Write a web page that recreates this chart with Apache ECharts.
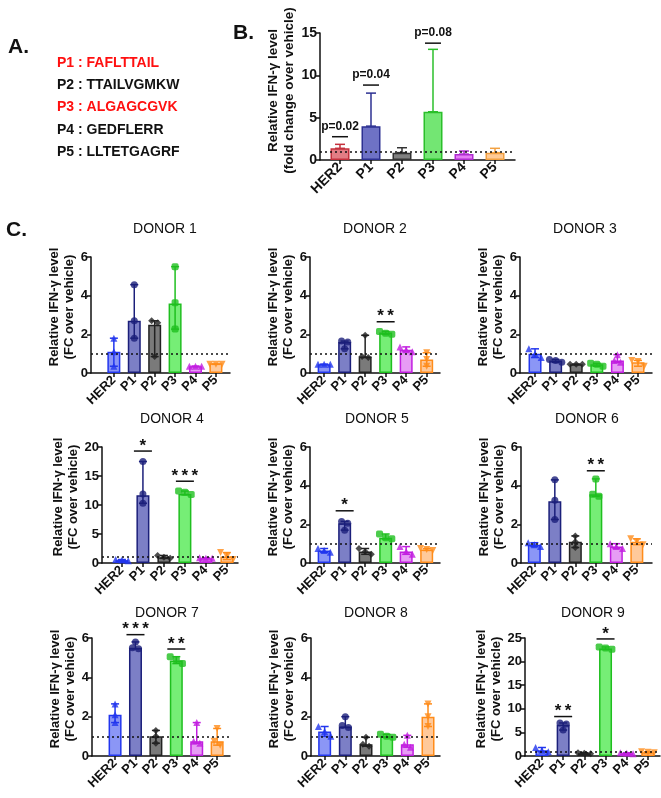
<!DOCTYPE html>
<html>
<head>
<meta charset="utf-8">
<script src="https://cdn.jsdelivr.net/npm/echarts@6/dist/echarts.min.js"></script>
<style>
  html, body { margin: 0; padding: 0; background: #fff; }
  #chart { width: 661px; height: 798px; }
</style>
</head>
<body>
<div id="chart"></div>
<script>
// ---- data ----
const cats = ['HER2', 'P1', 'P2', 'P3', 'P4', 'P5'];
const peptideNames = ['P1', 'P2', 'P3', 'P4', 'P5'];
const peptideSeqs = ['FAFLTTAIL', 'TTAILVGMKW', 'ALGAGCGVK', 'GEDFLERR', 'LLTETGAGRF'];
const peptideHighlighted = [true, false, true, false, false];

// panel B: pooled fold change
const bMeans = [1.38, 4.0, 0.87, 5.7, 0.7, 0.87];
const bErrHi = [1.85, 7.9, 1.45, 13.07, 1.06, 1.38];
const bSigCats = [0, 1, 3];
const bSigLevels = [2.75, 8.85, 13.8];
const bSigTexts = ['p=0.02', 'p=0.04', 'p=0.08'];

// panel C: per donor bar heights
const donorNames = ['DONOR 1', 'DONOR 2', 'DONOR 3', 'DONOR 4', 'DONOR 5', 'DONOR 6', 'DONOR 7', 'DONOR 8', 'DONOR 9'];
const donorMeans = [
  [1.1, 2.7, 2.5, 3.6, 0.35, 0.5],
  [0.45, 1.6, 0.85, 2.1, 1.2, 0.7],
  [1.0, 0.65, 0.45, 0.45, 0.65, 0.55],
  [0.5, 11.7, 1.0, 11.9, 0.8, 1.1],
  [0.65, 2.05, 0.6, 1.3, 0.6, 0.7],
  [0.95, 3.2, 1.1, 3.55, 0.85, 1.1],
  [2.1, 5.5, 1.0, 4.85, 0.75, 0.75],
  [1.25, 1.5, 0.6, 1.0, 0.6, 2.0],
  [1.2, 6.6, 0.6, 22.8, 0.6, 0.8]
];
// individual replicates (3 per peptide)
const donorPoints = [
  [[1.8, 1.1, 0.35], [4.57, 2.7, 1.8], [2.7, 2.6, 0.85], [5.5, 3.63, 2.27], [0.35, 0.35, 0.35], [0.45, 0.45, 0.45]],
  [[0.45, 0.45, 0.45], [1.65, 1.6, 1.25], [1.95, 0.85, 0.8], [2.15, 2.05, 2.0], [1.35, 1.2, 1.1], [1.05, 0.7, 0.35]],
  [[1.25, 1.0, 0.8], [0.7, 0.65, 0.55], [0.45, 0.45, 0.45], [0.5, 0.45, 0.35], [0.95, 0.65, 0.55], [0.65, 0.6, 0.35]],
  [[0.6, 0.5, 0.4], [17.5, 11.9, 10.3], [1.3, 1.0, 0.8], [12.4, 12.2, 11.8], [0.9, 0.8, 0.8], [1.8, 1.1, 0.6]],
  [[0.75, 0.65, 0.55], [2.15, 2.05, 1.7], [0.75, 0.6, 0.45], [1.5, 1.3, 1.25], [0.85, 0.6, 0.45], [0.75, 0.7, 0.65]],
  [[1.05, 0.95, 0.85], [4.3, 3.25, 2.25], [1.4, 1.1, 0.8], [4.35, 3.55, 3.45], [1.0, 0.85, 0.75], [1.25, 1.1, 0.95]],
  [[2.65, 2.1, 1.7], [5.8, 5.5, 5.45], [1.3, 1.0, 0.65], [5.05, 4.9, 4.7], [1.7, 0.75, 0.65], [1.4, 0.75, 0.55]],
  [[1.5, 1.25, 1.0], [2.0, 1.55, 1.45], [0.95, 0.6, 0.5], [1.1, 1.0, 0.95], [1.05, 0.6, 0.45], [2.65, 2.0, 1.5]],
  [[1.8, 1.2, 0.9], [7.0, 6.8, 5.5], [0.7, 0.6, 0.5], [23.1, 22.9, 22.6], [0.7, 0.6, 0.5], [0.9, 0.8, 0.7]]
];
// significance marks: [category index, bar level, label]
const donorSig = [
  [],
  [[3, 2.65, '**']],
  [],
  [[1, 19.3, '*'], [3, 14.1, '***']],
  [[1, 2.7, '*']],
  [[3, 4.77, '**']],
  [[1, 6.17, '***'], [3, 5.44, '**']],
  [],
  [[1, 8.36, '**'], [3, 24.8, '*']]
];
const donorYMax = [6, 6, 6, 20, 6, 6, 6, 6, 25];
const donorYStep = [2, 2, 2, 5, 2, 2, 2, 2, 5];
const baseline = 1;

// ---- styles / layout ----
const FONT = '"Liberation Sans", Arial, sans-serif';
const INK = '#111';
const bFill = ['#e27d84', '#6e72c5', '#808080', '#73e673', '#e57ef5', '#ffca95'];
const bEdge = ['#c4303c', '#2d3192', '#333333', '#2bbf2b', '#b02ad0', '#f2a040'];
const cFill = ['#8b96f6', '#7c7fc6', '#7a7a7a', '#76ee76', '#e79cf5', '#ffc99a'];
const cEdge = ['#2236ee', '#1b1f7a', '#222222', '#1fbf1f', '#c21fe0', '#ff8c1a'];
const cSymbol = ['triangle', 'circle', 'diamond', 'roundRect', 'triangle', 'triangle'];
const cSymbolRot = [0, 0, 0, 0, 0, 180];

// grid boxes: left (y-axis x), top, width, height, x min, x max, title x, title y
const boxB = { left: 320, top: 33, width: 195, height: 127, xMin: -0.645, xMax: 5.645 };
const donorBoxes = [
  { left: 91, top: 257, width: 139, height: 116, xMin: -1.12, xMax: 5.69, tx: 165, ty: 229 },
  { left: 310, top: 257, width: 130, height: 116, xMin: -0.69, xMax: 5.65, tx: 375, ty: 229 },
  { left: 520, top: 257, width: 132, height: 116, xMin: -0.73, xMax: 5.68, tx: 585, ty: 229 },
  { left: 102, top: 447, width: 136, height: 116, xMin: -0.95, xMax: 5.53, tx: 172, ty: 419 },
  { left: 310, top: 447, width: 130, height: 116, xMin: -0.69, xMax: 5.65, tx: 377, ty: 419 },
  { left: 521, top: 447, width: 131, height: 116, xMin: -0.65, xMax: 5.74, tx: 587, ty: 419 },
  { left: 92, top: 638, width: 138, height: 118, xMin: -1.13, xMax: 5.63, tx: 167, ty: 613 },
  { left: 311, top: 638, width: 129, height: 118, xMin: -0.66, xMax: 5.58, tx: 376, ty: 613 },
  { left: 525, top: 638, width: 135, height: 118, xMin: -0.8, xMax: 5.57, tx: 593, ty: 613 }
];

const chart = echarts.init(document.getElementById('chart'));
const grids = [], xAxes = [], yAxes = [], series = [];
const tickVals = cats.map((c, i) => i);

function addAxes(box, yMax, yStep, opt) {
  const gi = grids.length;
  grids.push({ left: box.left, top: box.top, width: box.width, height: box.height, containLabel: false });
  xAxes.push({
    gridIndex: gi, type: 'value', min: box.xMin, max: box.xMax,
    axisLine: { show: true, onZero: false, lineStyle: { color: INK, width: 1.5 } },
    axisTick: { show: true, customValues: tickVals, length: 4, lineStyle: { color: INK, width: 1.5 } },
    axisLabel: {
      customValues: tickVals, formatter: v => cats[Math.round(v)], rotate: 45, margin: 5,
      fontFamily: FONT, fontWeight: 'bold', fontSize: opt.xFont, color: INK
    },
    splitLine: { show: false }
  });
  yAxes.push({
    gridIndex: gi, type: 'value', min: 0, max: yMax, interval: yStep,
    axisLine: { show: true, onZero: false, lineStyle: { color: INK, width: 1.5 } },
    axisTick: { show: true, length: 4, lineStyle: { color: INK, width: 1.5 } },
    axisLabel: { fontFamily: FONT, fontWeight: 'bold', fontSize: opt.yFont, color: INK, margin: 3 },
    splitLine: { show: false },
    name: opt.name, nameLocation: 'middle', nameGap: opt.nameGap,
    nameTextStyle: {
      fontFamily: FONT, fontWeight: 'bold', fontSize: opt.nameFont, color: INK,
      lineHeight: opt.nameLine, padding: [0, 0, 0, opt.nameShift]
    }
  });
  return gi;
}

function errRender(capHalf) {
  return function (params, api) {
    const x = api.value(0);
    const lo = api.coord([x, api.value(1)]);
    const hi = api.coord([x, api.value(2)]);
    const st = { stroke: api.visual('color'), lineWidth: 1.5 };
    return {
      type: 'group', children: [
        { type: 'line', shape: { x1: lo[0], y1: lo[1], x2: hi[0], y2: hi[1] }, style: st },
        { type: 'line', shape: { x1: hi[0] - capHalf, y1: hi[1], x2: hi[0] + capHalf, y2: hi[1] }, style: st },
        { type: 'line', shape: { x1: lo[0] - capHalf, y1: lo[1], x2: lo[0] + capHalf, y2: lo[1] }, style: st }
      ]
    };
  };
}

function sigRender(texts, halfLen, font, lift) {
  return function (params, api) {
    const p = api.coord([api.value(0), api.value(1)]);
    return {
      type: 'group', children: [
        { type: 'line', shape: { x1: p[0] - halfLen, y1: p[1], x2: p[0] + halfLen, y2: p[1] }, style: { stroke: INK, lineWidth: 1.5 } },
        { type: 'text', x: p[0], y: p[1] - lift, style: { text: texts[params.dataIndex], align: 'center', verticalAlign: 'middle', font: font, fill: INK } }
      ]
    };
  };
}

function dottedLine() {
  return {
    silent: true, symbol: 'none', label: { show: false },
    lineStyle: { type: [2, 3], color: INK, width: 1.5 },
    data: [{ yAxis: baseline }]
  };
}

// spread overlapping replicate dots sideways
function spread(vals, yMax) {
  const order = vals.map((v, i) => i).sort((a, b) => vals[b] - vals[a]);
  const off = new Array(vals.length).fill(0);
  let group = [order[0]];
  const flush = () => {
    group.forEach((idx, k) => { off[idx] = (k - (group.length - 1) / 2) * 0.3; });
  };
  for (let k = 1; k < order.length; k++) {
    if (Math.abs(vals[order[k - 1]] - vals[order[k]]) < yMax * 0.045) group.push(order[k]);
    else { flush(); group = [order[k]]; }
  }
  flush();
  return off;
}

// ---- panel B ----
{
  const gi = addAxes(boxB, 15, 5, {
    xFont: 14, yFont: 14, nameFont: 13.5, nameLine: 16, nameGap: 19, nameShift: 12,
    name: 'Relative IFN-γ level\n(fold change over vehicle)'
  });
  series.push({
    type: 'bar', xAxisIndex: gi, yAxisIndex: gi, barWidth: 19, z: 2,
    data: bMeans.map((m, i) => ({ value: [i, m], itemStyle: { color: bFill[i], borderColor: bEdge[i], borderWidth: 1.5 } })),
    markLine: dottedLine()
  });
  series.push({
    type: 'custom', xAxisIndex: gi, yAxisIndex: gi, z: 3, renderItem: errRender(5),
    data: bMeans.map((m, i) => ({ value: [i, m, bErrHi[i]], itemStyle: { color: bEdge[i] } }))
  });
  series.push({
    type: 'custom', xAxisIndex: gi, yAxisIndex: gi, z: 4,
    renderItem: sigRender(bSigTexts, 8, 'bold 12px ' + FONT, 10),
    data: bSigCats.map((c, k) => [c, bSigLevels[k]])
  });
}

// ---- panel C ----
donorMeans.forEach((means, d) => {
  const box = donorBoxes[d];
  const yMax = donorYMax[d];
  const gi = addAxes(box, yMax, donorYStep[d], {
    xFont: 13, yFont: 13, nameFont: 13, nameLine: 15, nameGap: 10, nameShift: 16,
    name: 'Relative IFN-γ level\n(FC over vehicle)'
  });
  series.push({
    type: 'bar', xAxisIndex: gi, yAxisIndex: gi, barWidth: 13, z: 2,
    data: means.map((m, i) => ({ value: [i, m], itemStyle: { color: cFill[i], borderColor: cEdge[i], borderWidth: 1.5 } })),
    markLine: dottedLine()
  });
  series.push({
    type: 'custom', xAxisIndex: gi, yAxisIndex: gi, z: 3, renderItem: errRender(4),
    data: donorPoints[d].map((pts, i) => ({
      value: [i, Math.min.apply(null, pts), Math.max.apply(null, pts)], itemStyle: { color: cEdge[i] }
    }))
  });
  const dots = [];
  donorPoints[d].forEach((pts, i) => {
    const off = spread(pts, yMax);
    pts.forEach((v, k) => {
      dots.push({
        value: [i + off[k], v], symbol: cSymbol[i], symbolRotate: cSymbolRot[i],
        itemStyle: { color: cEdge[i] }
      });
    });
  });
  series.push({
    type: 'scatter', xAxisIndex: gi, yAxisIndex: gi, z: 4, symbolSize: 7, silent: true, data: dots
  });
  const sig = donorSig[d];
  if (sig.length) {
    series.push({
      type: 'custom', xAxisIndex: gi, yAxisIndex: gi, z: 5,
      // stars are set a little apart, as in the original figure
      renderItem: sigRender(sig.map(s => s[2].split('').join('\u2009')), 9, 'bold 17px ' + FONT, 5),
      data: sig.map(s => [s[0], s[1]])
    });
  }
});

// ---- text elements ----
const graphics = [
  { type: 'text', x: 8, y: 47, style: { text: 'A.', font: 'bold 21px ' + FONT, fill: INK, verticalAlign: 'middle' } },
  { type: 'text', x: 233, y: 33, style: { text: 'B.', font: 'bold 21px ' + FONT, fill: INK, verticalAlign: 'middle' } },
  { type: 'text', x: 6, y: 230, style: { text: 'C.', font: 'bold 21px ' + FONT, fill: INK, verticalAlign: 'middle' } }
];
peptideNames.forEach((p, i) => {
  graphics.push({
    type: 'text', x: 57, y: 63 + i * 22.3,
    style: {
      text: p + ' : ' + peptideSeqs[i], font: 'bold 14px ' + FONT,
      fill: peptideHighlighted[i] ? '#ff1010' : INK, verticalAlign: 'middle'
    }
  });
});
donorNames.forEach((n, d) => {
  graphics.push({
    type: 'text', x: donorBoxes[d].tx, y: donorBoxes[d].ty,
    style: { text: n, font: '14px ' + FONT, fill: INK, align: 'center', verticalAlign: 'middle' }
  });
});

chart.setOption({
  animation: false,
  backgroundColor: '#fff',
  grid: grids,
  xAxis: xAxes,
  yAxis: yAxes,
  series: series,
  graphic: graphics
});
</script>
</body>
</html>
